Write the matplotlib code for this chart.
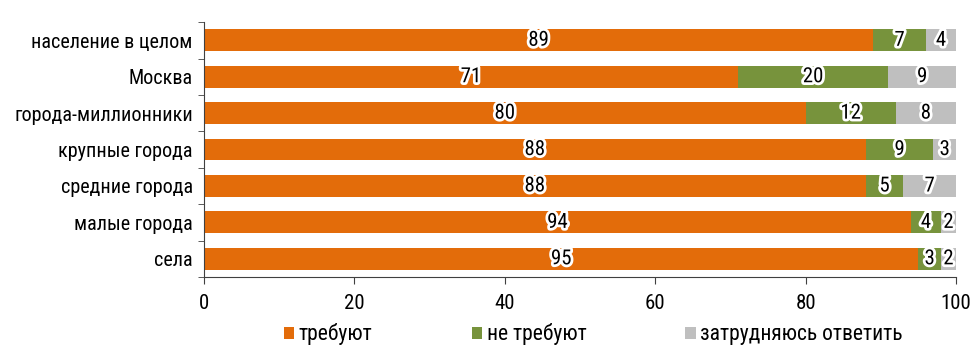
import matplotlib.pyplot as plt
import matplotlib.patheffects as pe
import numpy as np
from matplotlib import font_manager

names = {f.name for f in font_manager.fontManager.ttflist}
fam = [f for f in ['Liberation Sans Narrow', 'DejaVu Sans Condensed', 'Roboto Condensed'] if f in names]
plt.rcParams['font.family'] = fam + ['DejaVu Sans']

categories = ['население в целом', 'Москва', 'города-миллионники', 'крупные города',
              'средние города', 'малые города', 'села']
need = [89, 71, 80, 88, 88, 94, 95]
no_need = [7, 20, 12, 9, 5, 4, 3]
hard = [4, 9, 8, 3, 7, 2, 2]
series = ['требуют', 'не требуют', 'затрудняюсь ответить']
colors = ['#E36C0A', '#77933C', '#BFBFBF']

fig = plt.figure(figsize=(9.76, 3.45), dpi=100)
ax = fig.add_axes([0.209, 0.197, 0.7705, 0.739])

y = np.arange(len(categories))
left = np.zeros(len(categories))
outline = [pe.withStroke(linewidth=4, foreground='white')]
for vals, name, c in zip([need, no_need, hard], series, colors):
    vals = np.array(vals)
    ax.barh(y, vals, left=left, height=0.6, color=c, label=name)
    for yi, l, v in zip(y, left, vals):
        ax.text(l + v / 2, yi, str(v), ha='center', va='center', fontsize=15,
                color='black', path_effects=outline)
    left += vals

ax.set_ylim(len(categories) - 0.5, -0.5)
ax.set_xlim(0, 100)
ax.set_xticks([0, 20, 40, 60, 80, 100])
ax.set_yticks(y)
ax.set_yticklabels(categories, fontsize=14.5)
ax.set_yticks(np.arange(-0.5, len(categories)), minor=True)
ax.tick_params(axis='y', which='major', length=0, pad=8)
ax.tick_params(axis='y', which='minor', length=4, color='#404040')
ax.tick_params(axis='x', labelsize=15, length=5, color='#404040', pad=7)
for s in ['top', 'right']:
    ax.spines[s].set_visible(False)
ax.spines['left'].set_color('#404040')
ax.spines['bottom'].set_color('#404040')

ax.legend(loc='center left', bbox_to_anchor=(0.106, -0.225), ncol=3, frameon=False,
          fontsize=15.5, handlelength=0.5, handleheight=0.5, handletextpad=0.2,
          columnspacing=4.6, borderpad=0, borderaxespad=0)

fig.savefig('out.png', dpi=100)
